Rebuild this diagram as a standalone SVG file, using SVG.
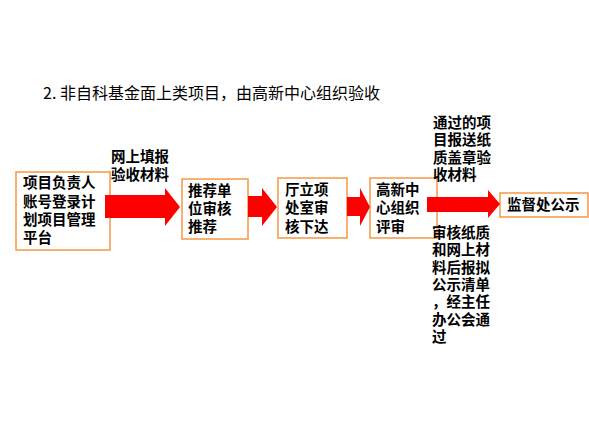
<svg xmlns="http://www.w3.org/2000/svg" width="589" height="425" viewBox="0 0 589 425">
<style>
.box{fill:#fff;stroke:#F79646;stroke-width:1.5}
.t{font-family:"Noto Sans CJK SC","Noto Sans",sans-serif;font-size:14.5px;font-weight:bold;fill:#000}
.title{font-family:"Noto Sans CJK SC","Noto Sans",sans-serif;font-size:16px;fill:#000}
.arr{fill:#FF0000}
</style>
<rect width="589" height="425" fill="#fff"/>
<text class="title" x="43" y="99">2. 非自科基金面上类项目，由高新中心组织验收</text>
<g id="n1">
<rect class="box" x="16" y="172" width="94" height="78"/>
<text class="t"><tspan x="23" y="188">项目负责人</tspan><tspan x="23" y="207">账号登录计</tspan><tspan x="23" y="225">划项目管理</tspan><tspan x="23" y="243">平台</tspan></text>
</g>
<g id="n2">
<rect class="box" x="182" y="179" width="66" height="60"/>
<text class="t"><tspan x="188" y="196">推荐单</tspan><tspan x="188" y="214">位审核</tspan><tspan x="188" y="232">推荐</tspan></text>
</g>
<g id="n3">
<rect class="box" x="278" y="178" width="69" height="60"/>
<text class="t"><tspan x="285" y="195">厅立项</tspan><tspan x="285" y="213">处室审</tspan><tspan x="285" y="232">核下达</tspan></text>
</g>
<g id="n4">
<rect class="box" x="370" y="178" width="67" height="60"/>
<text class="t"><tspan x="376" y="195">高新中</tspan><tspan x="376" y="213">心组织</tspan><tspan x="376" y="232">评审</tspan></text>
</g>
<g id="n5">
<rect class="box" x="500" y="193" width="88" height="24"/>
<text class="t" x="507" y="210">监督处公示</text>
</g>
<g id="connectors">
<polygon class="arr" points="105,195 165,195 165,188 180,207 165,226 165,218 105,218"/>
<polygon class="arr" points="248,196 262,196 262,188 277,207 262,226 262,217 248,217"/>
<polygon class="arr" points="347,197 360,197 360,188 370,207 360,226 360,216 347,216"/>
<polygon class="arr" points="427,197 488,197 488,190 500,204 488,218 488,212 427,212"/>
</g>
<g id="labels">
<text class="t"><tspan x="111" y="162">网上填报</tspan><tspan x="111" y="180">验收材料</tspan></text>
<text class="t"><tspan x="433" y="128">通过的项</tspan><tspan x="433" y="145">目报送纸</tspan><tspan x="433" y="163">质盖章验</tspan><tspan x="433" y="180">收材料</tspan></text>
<text class="t"><tspan x="432" y="238">审核纸质</tspan><tspan x="432" y="255">和网上材</tspan><tspan x="432" y="273">料后报拟</tspan><tspan x="432" y="290">公示清单</tspan><tspan x="432" y="307">，经主任</tspan><tspan x="432" y="325">办公会通</tspan><tspan x="432" y="342">过</tspan></text>
</g>
</svg>
